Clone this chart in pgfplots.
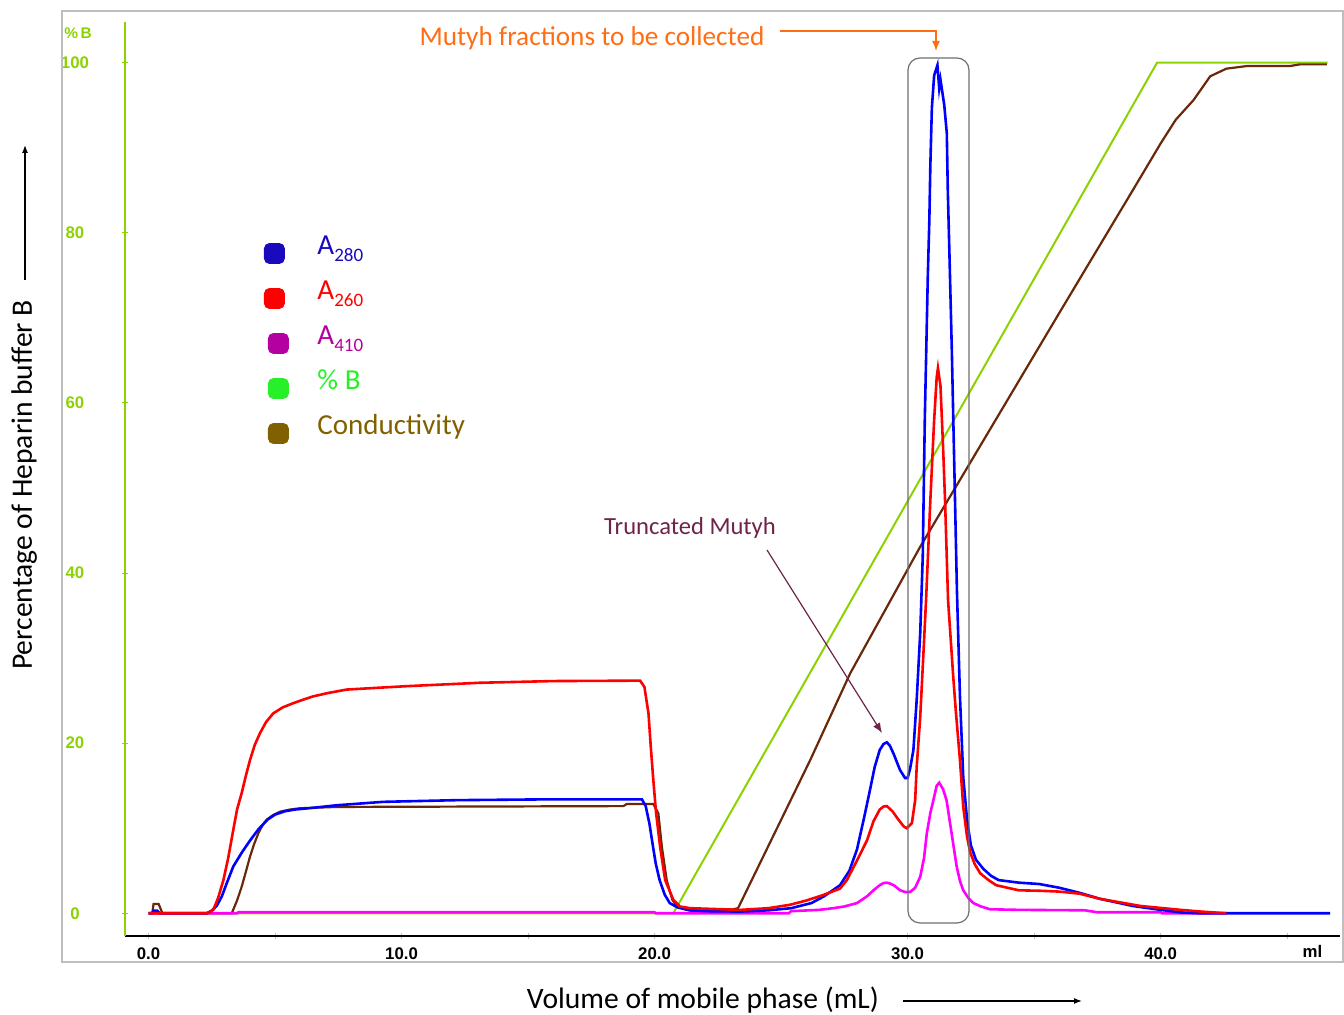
\documentclass[border=0pt]{standalone}
\usepackage{fontspec}
\setmainfont{Carlito}
\newfontfamily\tickfont{Liberation Sans}
\usepackage{pgfplots}
\pgfplotsset{compat=1.18}
\usetikzlibrary{arrows.meta}

\definecolor{bgreen}{RGB}{140,210,0}
\definecolor{lgreen}{RGB}{40,240,40}
\definecolor{cblue}{RGB}{0,0,255}
\definecolor{cred}{RGB}{255,0,0}
\definecolor{cmag}{RGB}{255,0,255}
\definecolor{cbrown}{RGB}{105,40,10}
\definecolor{lblue}{RGB}{25,10,190}
\definecolor{lpurple}{RGB}{180,0,160}
\definecolor{lbrown}{RGB}{128,96,0}
\definecolor{corange}{RGB}{255,110,20}
\definecolor{cplum}{RGB}{110,35,75}
\definecolor{framegray}{RGB}{190,190,190}
\definecolor{boxgray}{RGB}{110,110,110}

\newcommand{\sub}[1]{\raisebox{-3.3pt}{\fontsize{9.5}{10}\selectfont #1}}

\begin{document}
\begin{tikzpicture}
\begin{axis}[
  scale only axis, width=607.5pt, height=457.15pt,
  xmin=-0.929, xmax=47.09, ymin=-2.67, ymax=104.82,
  axis x line*=bottom, axis y line*=left,
  x axis line style={black, line width=1pt},
  y axis line style={bgreen, line width=1pt},
  xtick={0,10,20,30,40}, xticklabels={0.0,10.0,20.0,30.0,40.0},
  minor xtick={5,15,25,35,45},
  extra x ticks={46}, extra x tick labels={ml},
  extra x tick style={major tick length=0pt},
  ytick={0,20,40,60,80,100}, yticklabels={0,20,40,60,80,100},
  tick align=center, major tick length=3pt, minor tick length=3pt,
  x tick style={gray!50, line width=0.5pt},
  y tick style={bgreen, line width=0.5pt},
  xticklabel style={font=\tickfont\bfseries\fontsize{8.4}{9}\selectfont, anchor=center, yshift=-7.5pt},
  yticklabel style={font=\tickfont\bfseries\fontsize{8.4}{9}\selectfont, text=bgreen, anchor=center, xshift=-23.5pt},
  legend cell align=left,
  legend style={at={(0.1144,0.7667)}, anchor=north west, draw=none, fill=none,
    inner sep=0pt, outer sep=0pt, row sep=8.05pt, column sep=14.35pt,
    font={\fontsize{14.5}{17}\selectfont},
    nodes={inner sep=0pt, text height=10pt, text depth=4pt}},
  clip=false,
]
\addlegendimage{legend image code/.code={\fill[lblue, rounded corners=2.5pt] (0pt,-7.25pt) rectangle (10pt,2.75pt);}}
\addlegendentry{\textcolor{lblue}{A\sub{280}}}
\addlegendimage{legend image code/.code={\fill[cred, rounded corners=2.5pt] (0pt,-7.25pt) rectangle (10pt,2.75pt);}}
\addlegendentry{\textcolor{cred}{A\sub{260}}}
\addlegendimage{legend image code/.code={\fill[lpurple, rounded corners=2.5pt] (2pt,-7.25pt) rectangle (12pt,2.75pt);}}
\addlegendentry{\textcolor{lpurple}{A\sub{410}}}
\addlegendimage{legend image code/.code={\fill[lgreen, rounded corners=2.5pt] (2pt,-7.25pt) rectangle (12pt,2.75pt);}}
\addlegendentry{\textcolor{lgreen}{\% B}}
\addlegendimage{legend image code/.code={\fill[lbrown, rounded corners=2.5pt] (2pt,-7.25pt) rectangle (12pt,2.75pt);}}
\addlegendentry{\textcolor{lbrown}{Conductivity}}

% % B gradient
\addplot[bgreen, line width=1pt, forget plot] coordinates {
(0,0) (20.74,0) (39.86,100) (46.6,100)};

% conductivity
\addplot[cbrown, line width=1.1pt, forget plot] coordinates {
(0,0) (0.15,0) (0.2,1.1) (0.4,1.1) (0.55,0) (3.29,0) (3.5,1.5) (3.68,3.1) (3.85,4.9)
(4.01,6.65) (4.17,8.1) (4.34,9.4) (4.5,10.3) (4.67,11.0) (4.9,11.5) (5.2,11.95)
(5.6,12.2) (5.99,12.35) (7.44,12.5) (18.77,12.6) (18.9,12.85) (19.95,12.85)
(20.15,11.75) (20.29,7.8) (20.48,3.9) (20.7,1.6) (20.88,0.8) (21.53,0.2) (22.7,0.2)
(23.3,0.6) (26.15,18) (27.73,28.2) (30.5,43.1) (33,55.6) (36,70.6) (39,85.5) (40,90.5)
(40.6,93.3) (41.3,95.6) (41.96,98.4) (42.6,99.3) (43.4,99.6) (45.1,99.6) (45.5,99.8)
(46.57,99.8)};

% A410
\addplot[cmag, line width=1.3pt, forget plot] coordinates {
(0,0) (3.5,0) (3.55,0.12) (20.0,0.12) (20.05,0) (25.3,0) (25.4,0.25) (26.5,0.4)
(27.07,0.6) (27.5,0.8) (28.0,1.2) (28.4,2.0) (28.65,2.7) (28.9,3.3) (29.05,3.55)
(29.18,3.6) (29.3,3.5) (29.45,3.3) (29.71,2.7) (29.9,2.5) (30.1,2.5) (30.3,3.0)
(30.5,4.3) (30.65,6.5) (30.76,9.4) (30.9,11.8) (31.02,13.3) (31.15,15) (31.25,15.35)
(31.4,14.6) (31.54,13.3) (31.74,9.4) (31.94,5.5) (32.07,3.8) (32.2,2.7) (32.4,1.8)
(32.6,1.2) (32.9,0.8) (33.26,0.47) (34.45,0.4) (37,0.35) (37.5,0.12) (40,0.12)
(40.05,0) (42.6,0)};

% A280
\addplot[cblue, line width=1.3pt, forget plot] coordinates {
(0,0) (0.15,0) (0.2,0.3) (0.35,0.3) (0.45,0) (2.3,0) (2.5,0.3) (2.7,0.9) (2.9,2.0)
(3.1,3.6) (3.35,5.5) (3.7,7.2) (4.0,8.5) (4.35,9.9) (4.7,11.0) (5.0,11.6) (5.4,12.0)
(5.8,12.2) (6.5,12.4) (7.44,12.7) (9.27,13.1) (12.2,13.3) (16,13.4) (19.5,13.4)
(19.65,12.6) (19.8,10.5) (19.94,7.8) (20.05,5.8) (20.2,3.9) (20.4,2.2) (20.6,1.2)
(20.9,0.7) (21.3,0.4) (22,0.25) (23.4,0.2) (24.5,0.35) (25.4,0.6) (26.2,1.2) (26.7,2.0)
(27.33,3.3) (27.7,5) (28.0,7.5) (28.3,11.5) (28.5,14.3) (28.7,17.2) (28.9,19.2)
(29.05,19.9) (29.18,20.1) (29.3,19.7) (29.44,18.8) (29.7,16.85) (29.9,15.9) (30.0,15.9)
(30.1,17) (30.23,19.2) (30.36,25.1) (30.5,33) (30.6,42) (30.68,58) (30.8,75)
(30.86,81.5) (30.9,88) (30.96,94.7) (31.05,98.5) (31.18,99.7) (31.25,97) (31.3,98)
(31.45,95) (31.55,91.7) (31.59,84.9) (31.65,78) (31.75,66) (31.85,52) (31.95,38)
(32.07,25.5) (32.2,16) (32.35,11) (32.5,8) (32.7,6.3) (33.0,5.2) (33.3,4.4) (33.6,3.9)
(34.4,3.6) (35.2,3.44) (36,3.0) (36.8,2.4) (37.6,1.7) (38.9,0.86) (40,0.4) (40.8,0.1)
(41.5,0) (46.7,0)};

% A260
\addplot[cred, line width=1.3pt, forget plot] coordinates {
(0,0) (2.3,0) (2.56,0.4) (2.75,1.8) (2.96,3.9) (3.15,6.5) (3.35,9.8) (3.5,12.2)
(3.68,14.1) (3.85,16.2) (4.01,18.0) (4.2,19.8) (4.41,21.2) (4.65,22.5) (4.93,23.5)
(5.3,24.2) (5.72,24.7) (6.1,25.1) (6.51,25.5) (7.1,25.9) (7.83,26.3) (9,26.5)
(10.2,26.7) (13.1,27.1) (16,27.3) (19.43,27.35) (19.6,26.6) (19.76,23.5) (19.85,19.6)
(19.95,15.7) (20.06,11.8) (20.22,7.8) (20.42,3.9) (20.74,1.6) (21.0,0.8) (21.4,0.6)
(23.4,0.4) (24.5,0.6) (25.35,1.0) (26.0,1.5) (26.67,2.15) (27.33,2.9) (27.6,3.9)
(28.0,6.2) (28.4,8.6) (28.65,10.8) (28.9,12.2) (29.05,12.55) (29.18,12.6) (29.4,12.0)
(29.64,11) (29.85,10.2) (29.97,10.0) (30.17,10.6) (30.3,13.3) (30.36,17.2) (30.5,23.1)
(30.6,29) (30.73,36.8) (30.9,48.6) (31.05,58) (31.15,63) (31.2,64.1) (31.3,62)
(31.4,55) (31.48,48.6) (31.6,36.8) (31.8,28) (31.9,24) (32.07,18) (32.2,12.5)
(32.35,9) (32.47,7.2) (32.65,5.8) (32.87,4.7) (33.2,3.9) (33.5,3.3) (34.4,2.7)
(35.2,2.65) (36,2.55) (36.8,2.3) (37.6,1.7) (39.2,0.86) (40.8,0.4) (41.6,0.2) (42.6,0)};
\end{axis}

% annotations in pixel units of the reference (origin at top left)
\begin{scope}[x=0.5pt, y=-0.5pt, shift={(-125,-936)}]
  \draw[framegray, line width=1pt] (62,11) rectangle (1343,962);
  \draw[boxgray, line width=0.6pt, rounded corners=6pt] (908,58) rectangle (969,923);
  \node[anchor=base, inner sep=0pt, text=bgreen, font=\tickfont\bfseries\fontsize{7.7}{8}\selectfont] at (78,39) {\%\,B};
  \node[anchor=base, inner sep=0pt, text=corange, font={\fontsize{13.6}{16}\selectfont}] at (592,46) {Mutyh fractions to be collected};
  \draw[corange, line width=0.7pt, -{Latex[length=5pt,width=4pt]}] (780,31) -- (936,31) -- (936,51);
  \node[anchor=base, inner sep=0pt, text=cplum, font={\fontsize{12.3}{15}\selectfont}] at (690,535) {Truncated Mutyh};
  \draw[cplum, line width=0.6pt, -{Latex[length=5pt,width=4pt]}] (767,550) -- (882,733);
  \node[anchor=base, inner sep=0pt, font={\fontsize{14.8}{17}\selectfont}] at (703,1009) {Volume of mobile phase (mL)};
  \draw[line width=0.6pt, -{Latex[length=4pt,width=3pt]}] (903,1001) -- (1082,1001);
  \node[anchor=base, rotate=90, inner sep=0pt, font={\fontsize{14.8}{17}\selectfont}] at (32,485) {Percentage of Heparin buffer B};
  \draw[line width=0.6pt, -{Latex[length=4pt,width=3pt]}] (25,280) -- (25,145);
  \pgfresetboundingbox
  \path[use as bounding box] (0,0) rectangle (1344,1015);
\end{scope}
\end{tikzpicture}
\end{document}
